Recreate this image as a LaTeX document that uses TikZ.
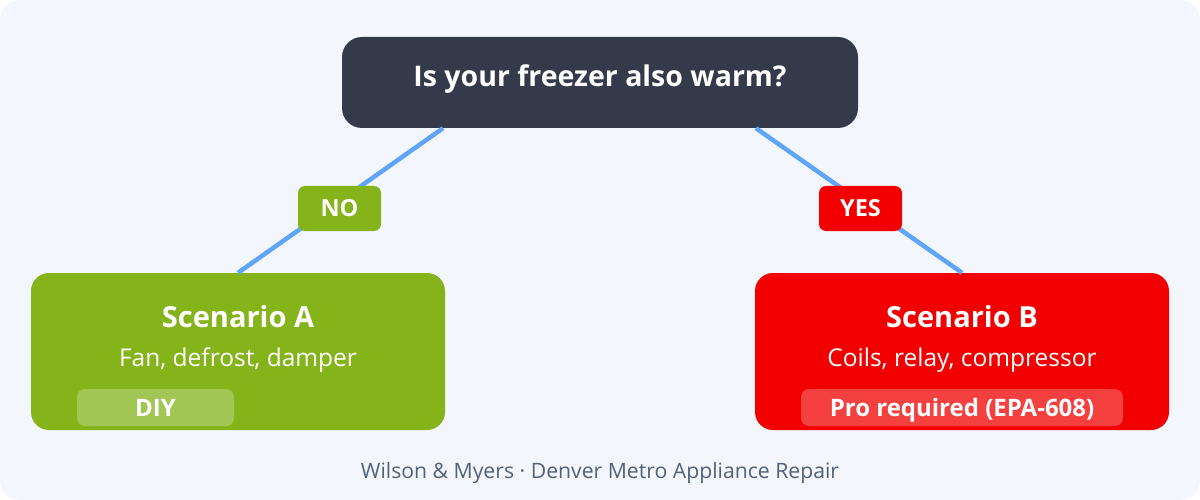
\documentclass[tikz,border=0pt]{standalone}
\usepackage{fontspec}
\setmainfont{Open Sans}
\usetikzlibrary{calc}

\definecolor{pagebg}{HTML}{F3F7FD}
\definecolor{darkbox}{HTML}{343A4A}
\definecolor{linkblue}{HTML}{60A5FA}
\definecolor{nogreen}{HTML}{84B41A}
\definecolor{yesred}{HTML}{F20000}
\definecolor{footgray}{HTML}{526079}

\begin{document}
\begin{tikzpicture}[x=1pt, y=-1pt,
    card/.style={rounded corners=18pt, inner sep=0pt, minimum width=414pt, minimum height=157pt},
    tag/.style={rounded corners=7pt, inner sep=0pt, minimum width=83pt, minimum height=45pt,
      text=white, font=\bfseries\fontsize{23.5}{27}\selectfont},
    badge/.style={rounded corners=8pt, inner sep=0pt, minimum height=37pt, fill=white, fill opacity=0.25},
    txt/.style={inner sep=0pt, anchor=base, text=white}]
  % page
  \fill[white] (0,0) rectangle (1200,500);
  \fill[pagebg, rounded corners=20pt] (0,0) rectangle (1200,500);
  \useasboundingbox (0,0) rectangle (1200,500);
  %
  \node[rounded corners=20pt, inner sep=0pt, minimum width=516pt, minimum height=91pt, fill=darkbox] (question) at (600,82.5) {};
  \node[txt, font=\bfseries\fontsize{28.5}{32}\selectfont] (qtext) at (600,87) {Is your freezer also warm?};
  %
  \node[card, fill=nogreen] (scenA) at (238,351.5) {};
  \node[card, fill=yesred] (scenB) at (962,351.5) {};
  %
  \draw[linkblue, line width=4.5pt] ([xshift=-157pt]question.south) -- (scenA.north);
  \draw[linkblue, line width=4.5pt] ([xshift=156pt]question.south) -- (scenB.north);
  \node[tag, fill=nogreen] (no) at (339.5,208.5) {NO};
  \node[tag, fill=yesred] (yes) at (860.5,208.5) {YES};
  %
  \node[txt, font=\bfseries\fontsize{29}{33}\selectfont] (titleA) at (238,327) {Scenario A};
  \node[txt, font=\fontsize{24.5}{28}\selectfont] (partsA) at (238,366) {Fan, defrost, damper};
  \node[badge, minimum width=157pt] (diybox) at (155.5,407.5) {};
  \node[txt, font=\bfseries\fontsize{24}{28}\selectfont] (diy) at (155.5,416) {DIY};
  %
  \node[txt, font=\bfseries\fontsize{29}{33}\selectfont] (titleB) at (962,327) {Scenario B};
  \node[txt, font=\fontsize{24.5}{28}\selectfont] (partsB) at (962,366) {Coils, relay, compressor};
  \node[badge, minimum width=322pt] (probox) at (962,407.5) {};
  \node[txt, font=\bfseries\fontsize{24}{28}\selectfont] (pro) at (962,416) {Pro required (EPA-608)};
  %
  \node[inner sep=0pt, anchor=base, text=footgray, font=\fontsize{21.2}{25}\selectfont] (footer) at (600,478) {Wilson \& Myers · Denver Metro Appliance Repair};
\end{tikzpicture}
\end{document}
